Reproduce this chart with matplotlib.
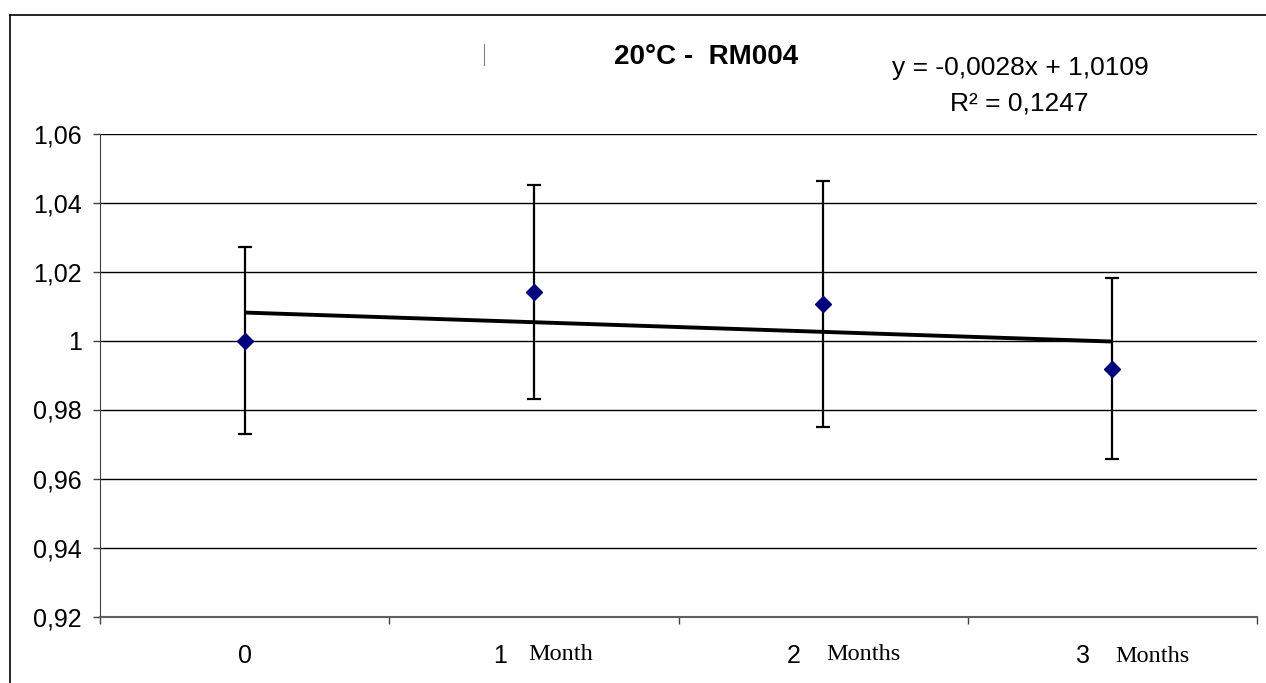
import numpy as np
import matplotlib
matplotlib.use("Agg")
import matplotlib.pyplot as plt
import matplotlib.transforms as mtransforms
from matplotlib.lines import Line2D

plt.rcParams['font.family'] = ['Liberation Sans', 'DejaVu Sans']

# measured values at each time point, with standard deviations
labels = ["0", "1", "2", "3"]
unit_words = ["", "Month", "Months", "Months"]
values = [1.0000, 1.0141, 1.0106, 0.9918]
errors = [0.0270, 0.0311, 0.0356, 0.0262]

# linear trend (x counted 1..4 as in the spreadsheet)
slope, intercept = -0.0028, 1.0109
r_squared = 0.1247

x = np.arange(len(values))
trend = slope * (x + 1) + intercept

# pixel nudges for the hand-placed axis text
num_shift = [0, -34, -29, -29]
word_shift = [(0, 0), (-6, -43), (3, -44), (3, -46)]

fig = plt.figure(figsize=(12.66, 6.83), dpi=100)
ax = fig.add_axes([100 / 1266, 66.5 / 683, 1157 / 1266, 483 / 683])

ax.set_ylim(0.92, 1.06)
ax.set_xlim(-0.5, len(values) - 0.5)
yt = np.arange(0.92, 1.0601, 0.02)
ax.set_yticks(yt)
ax.set_yticklabels(["1" if abs(v - 1) < 1e-9 else f"{v:.2f}".replace(".", ",") for v in yt],
                   fontsize=18)
for v in yt[1:]:
    ax.axhline(v, color="black", lw=1.0, zorder=1)

# category boundaries carry the tick marks, labels sit between them
ax.set_xticks(np.arange(-0.5, len(values)), minor=True)
ax.set_xticks(x)
ax.set_xticklabels(labels, fontsize=18)
ax.tick_params(axis="x", which="major", length=0, pad=20)
ax.tick_params(axis="x", which="minor", length=5, width=1, color="#404040")
ax.tick_params(axis="y", length=5, width=1, color="#404040", pad=8)
for i, tl in enumerate(ax.get_xticklabels()):
    tl.set_transform(tl.get_transform() +
                     mtransforms.ScaledTranslation(num_shift[i] / 100, 0, fig.dpi_scale_trans))

for s in ["top", "right"]:
    ax.spines[s].set_visible(False)
ax.spines["left"].set_color("#404040")
ax.spines["bottom"].set_color("#606060")
ax.spines["bottom"].set_linewidth(1.5)

# unit words next to the numbers
for i, w in enumerate(unit_words):
    if w:
        ax.annotate(w, xy=(x[i], 0), xycoords=("data", "axes fraction"),
                    xytext=word_shift[i], textcoords="offset pixels",
                    ha="left", va="baseline", fontsize=17.5,
                    family=["Liberation Serif", "DejaVu Serif"])

ax.plot(x, trend, color="black", lw=2.8, zorder=3, solid_capstyle="butt")
ax.errorbar(x, values, yerr=errors, fmt="D", color="#000080", ms=8,
            ecolor="black", elinewidth=1.6, capsize=5, capthick=1.6, zorder=4)

fig.text(706 / 1266, 1 - 57.5 / 683, "20°C -  RM004", ha="center", va="center",
         fontsize=20, fontweight="bold")
fig.text(1020 / 1266, 1 - 75 / 683, f"y = {slope:.4f}x + {intercept:.4f}".replace(".", ","),
         ha="center", va="baseline", fontsize=19)
fig.text(1019 / 1266, 1 - 110 / 683, f"R² = {r_squared:.4f}".replace(".", ","),
         ha="center", va="baseline", fontsize=19)

# chart frame (left and top edges) and the small stray mark near the title
fig.add_artist(Line2D([9.5 / 1266, 9.5 / 1266], [0, 1 - 14.7 / 683],
                      color="black", lw=1.2))
fig.add_artist(Line2D([9.5 / 1266, 1], [1 - 14.7 / 683, 1 - 14.7 / 683],
                      color="black", lw=1.2))
fig.add_artist(Line2D([484 / 1266, 484 / 1266], [1 - 44 / 683, 1 - 65 / 683],
                      color="#808080", lw=0.8))

fig.savefig("out.png", dpi=100)
